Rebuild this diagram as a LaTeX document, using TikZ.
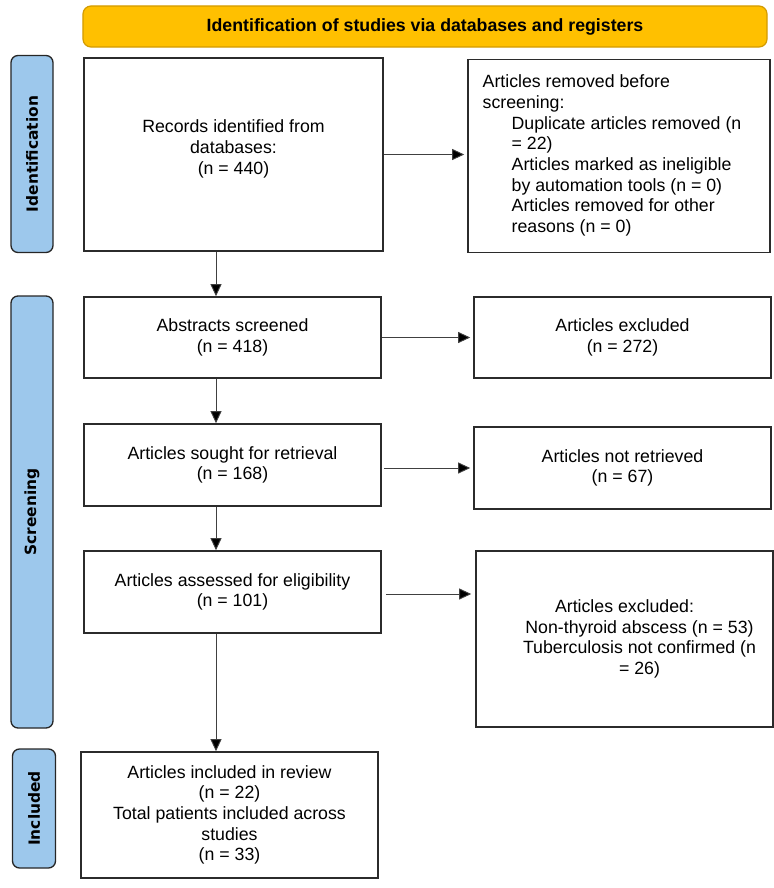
\documentclass[tikz,border=0pt]{standalone}
\usepackage{fontspec}
\setmainfont{Liberation Sans}
\newfontfamily\labelfont{DejaVu Sans}
\usetikzlibrary{arrows.meta}
\definecolor{bannerfill}{HTML}{FFC000}
\definecolor{bannerline}{HTML}{D39B00}
\definecolor{phasefill}{HTML}{9DC8EC}
\definecolor{boxline}{HTML}{2B2B2B}
\begin{document}
\begin{tikzpicture}[x=1bp, y=-1bp,
    box/.style={draw=boxline, line width=1.6bp, rectangle, align=center, inner sep=0pt,
        font=\fontsize{17.8}{20.7}\selectfont},
    phase/.style={draw=black!85, line width=1.3bp, fill=phasefill, rounded corners=7bp,
        rotate=90, inner sep=0pt, font=\labelfont\bfseries\fontsize{15.5}{18}\selectfont},
    arr/.style={draw=black!75, line width=0.9bp, -{Triangle[length=12bp,width=11bp,fill=black]}}]
    % Fix the page size
    \useasboundingbox (0,0) rectangle (774,888);
    % Draw the banner
    \node at (425,26.5) [draw=bannerline, line width=1.2bp, fill=bannerfill, rounded corners=8bp,
        minimum width=684bp, minimum height=41bp, font=\bfseries\fontsize{17.8}{20}\selectfont] (banner)
        {Identification of studies via databases and registers};
    % Phase labels on the left
\node at (32,154) [phase, minimum width=197bp, minimum height=42bp] (identification) {Identification};
\node at (32,512) [phase, minimum width=432bp, minimum height=42bp] (screening) {Screening};
\node at (34,808.5) [phase, minimum width=119bp, minimum height=43bp] (included) {Included};

    % Identification
\node at (233.5,154.5) [box, minimum width=299bp, minimum height=193bp] (records)
    {Records identified from\\databases:\\(n = 440)\\[-6bp]};
\node at (619,156) [box, minimum width=302bp, minimum height=193bp] (removed)
    {\begin{tabular}{@{}l@{}}Articles removed before\\screening:\\
    \hspace*{29bp}Duplicate articles removed (n\\\hspace*{29bp}= 22)\\
    \hspace*{29bp}Articles marked as ineligible\\\hspace*{29bp}by automation tools (n = 0)\\
    \hspace*{29bp}Articles removed for other\\\hspace*{29bp}reasons (n = 0)\end{tabular}\hspace*{14bp}};

    % Screening
\node at (232.5,337.5) [box, minimum width=297bp, minimum height=81bp] (abstracts)
    {Abstracts screened\\(n = 418)};
\node at (622.5,337.5) [box, minimum width=297bp, minimum height=81bp] (excluded)
    {Articles excluded\\(n = 272)};
\node at (232.5,465) [box, minimum width=297bp, minimum height=82bp] (sought)
    {Articles sought for retrieval\\(n = 168)};
\node at (622.5,468) [box, minimum width=297bp, minimum height=82bp] (notretrieved)
    {Articles not retrieved\\(n = 67)};
\node at (232.5,592) [box, minimum width=297bp, minimum height=82bp] (assessed)
    {Articles assessed for eligibility\\(n = 101)};
\node at (624.5,639) [box, minimum width=297bp, minimum height=176bp] (reasons)
    {Articles excluded:\\\hspace*{30bp}Non-thyroid abscess (n = 53)\\
    \hspace*{30bp}Tuberculosis not confirmed (n\\\hspace*{30bp}= 26)};

    % Included
\node at (229.5,815) [box, minimum width=297bp, minimum height=126bp] (review)
    {Articles included in review\\(n = 22)\\Total patients included across\\studies\\(n = 33)};

    % Arrows down the left column
\coordinate (col) at (216,0);
\draw[arr] (records.south -| col) -- (abstracts.north -| col);
\draw[arr] (abstracts.south -| col) -- (sought.north -| col);
\draw[arr] (sought.south -| col) -- (assessed.north -| col);
\draw[arr] (assessed.south -| col) -- (review.north -| col);
    % Arrows to the right column
\draw[arr, shorten >=3bp] (records.east) -- (records.east -| removed.west);
\draw[arr, shorten >=3bp] (abstracts.east) -- (abstracts.east -| excluded.west);
\draw[arr, shorten <=2bp, shorten >=3bp] (sought.east |- notretrieved.west) -- (notretrieved.west);
\draw[arr, shorten <=4bp, shorten >=4bp] ([yshift=-2bp]assessed.east) -- ([yshift=-2bp]assessed.east -| reasons.west);
\end{tikzpicture}
\end{document}
